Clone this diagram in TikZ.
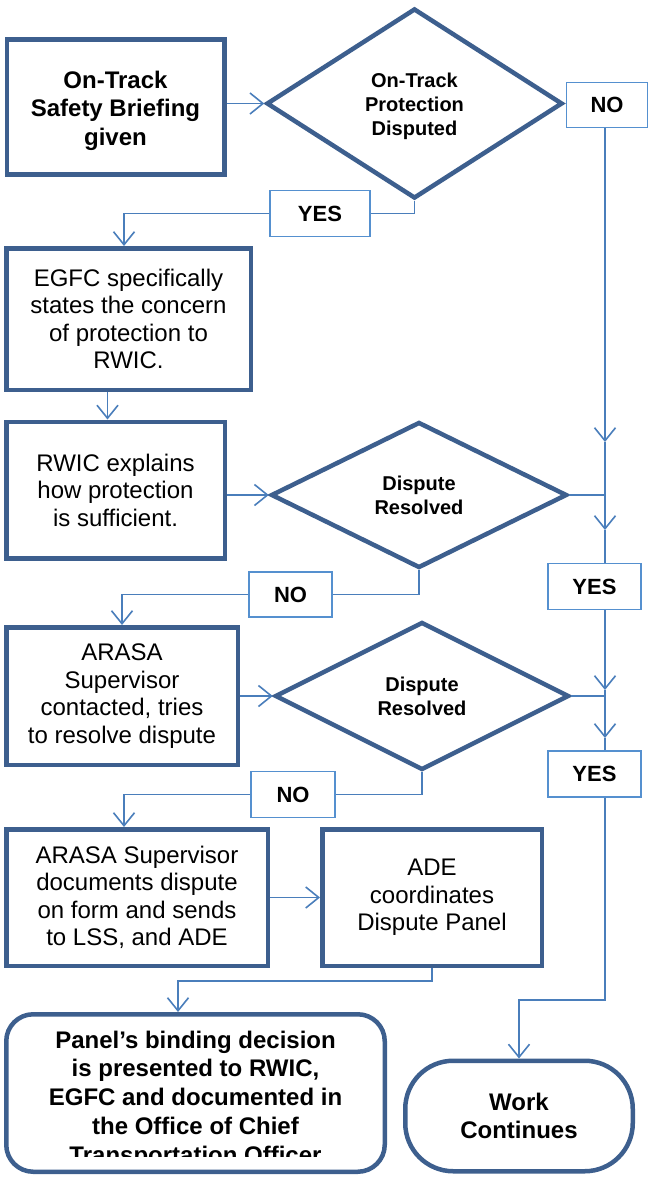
\documentclass[tikz,border=0pt]{standalone}
\usepackage{fontspec}
\setmainfont{Liberation Sans}
\usetikzlibrary{shapes.geometric,arrows.meta}
\definecolor{boxline}{HTML}{3D5F8E}
\definecolor{connline}{HTML}{4A7EBB}
\definecolor{tagline}{HTML}{5590CF}

\begin{document}
\begin{tikzpicture}[x=1pt,y=-1pt,
  procbox/.style={draw=boxline, line width=4.5pt, fill=white, align=center,
    inner sep=0pt, font=\fontsize{24}{27.5}\selectfont},
  boldbox/.style={procbox, font=\fontsize{24}{28.5}\selectfont\bfseries},
  decision/.style={diamond, draw=boxline, line width=4.5pt, fill=white,
    align=center, inner sep=0pt, font=\fontsize{20}{24}\selectfont\bfseries},
  tag/.style={draw=tagline, line width=1.4pt, fill=white, inner sep=0pt,
    font=\fontsize{22}{26}\selectfont\bfseries},
  link/.style={draw=connline, line width=1.6pt},
  arr/.style={link, -{Straight Barb[length=13pt,width=21pt]}},
]
\useasboundingbox (0,0) rectangle (650,1177);

% process boxes
\node[boldbox, minimum width=217.5pt, minimum height=135pt] (b1) at (115.5,107) {};
\node[align=center, font=\fontsize{24}{28.5}\selectfont\bfseries] (b1text)
  at (115.5,110.5) {On-Track\\Safety Briefing\\given};
\node[procbox, minimum width=244.5pt, minimum height=141.5pt] (b2) at (128.5,319)
  {EGFC specifically\\states the concern\\of protection to\\RWIC.};
\node[procbox, minimum width=218.5pt, minimum height=136.5pt] (b3) at (115.5,490)
  {RWIC explains\\how protection\\is sufficient.};
\node[procbox, minimum width=231.5pt, minimum height=137.5pt] (b4) at (122,696)
  {ARASA\\Supervisor\\contacted, tries\\to resolve dispute};
\node[procbox, minimum width=261.5pt, minimum height=136.5pt] (b5) at (137,897.5)
  {ARASA Supervisor\\documents dispute\\on form and sends\\to LSS, and ADE};
\node[procbox, minimum width=219.5pt, minimum height=136.5pt] (b6) at (432,897.5)
  {ADE\\coordinates\\Dispute Panel};

% decisions
\node[decision, minimum width=296pt, minimum height=190pt] (d1) at (414.5,103.5) {};
\node[align=center, font=\fontsize{20}{24}\selectfont\bfseries] (d1text)
  at (414.5,106.5) {On-Track\\Protection\\Disputed};
\node[decision, minimum width=296pt, minimum height=146pt] (d2) at (419,495)
  {Dispute\\Resolved};
\node[decision, minimum width=294pt, minimum height=148pt] (d3) at (422,696)
  {Dispute\\Resolved};

% terminal shapes
\node[draw=boxline, line width=4.5pt, fill=white, rounded corners=27pt,
  minimum width=378.5pt, minimum height=157.5pt] (panel) at (195.5,1093) {};
\begin{scope}
  \clip (0,1000) rectangle (650,1156);
  \node[align=center, font=\fontsize{24}{28.75}\selectfont\bfseries] (paneltext)
    at (195.5,1099.5)
    {Panel’s binding decision\\is presented to RWIC,\\EGFC and documented in\\the Office of Chief\\Transportation Officer};
\end{scope}
\node[draw=boxline, line width=4.5pt, fill=white, rounded corners=48pt,
  align=center, font=\fontsize{24}{28}\selectfont\bfseries,
  minimum width=227.5pt, minimum height=110.5pt] (work) at (519,1116)
  {Work\\Continues};

% branch labels
\node[tag, minimum width=81pt, minimum height=45pt] (no0) at (607,105) {NO};
\node[tag, minimum width=100pt, minimum height=46pt] (yes0) at (320,213.5) {YES};
\node[tag, minimum width=83pt, minimum height=45pt] (no1) at (290.5,594.5) {NO};
\node[tag, minimum width=84pt, minimum height=46pt] (no2) at (293,794.5) {NO};
\node[tag, minimum width=93pt, minimum height=46pt] (yes1) at (594.5,586.5) {YES};
\node[tag, minimum width=93pt, minimum height=46pt] (yes2) at (594.5,774) {YES};

% right-hand trunk points
\coordinate (t1) at (605,442);
\coordinate (t2) at (605,530);
\coordinate (t3) at (605,690);
\coordinate (t4) at (605,738);
\coordinate (t5) at (605,1000);

% connectors
\draw[arr] (d1.west -| b1.east) -- (d1.west);
\draw[link] (d1.south) |- (yes0.east);
\draw[arr] (yes0.west) -| (124,0 |- b2.north);
\draw[arr] (107.5,0 |- b2.south) -- (107.5,0 |- b3.north);
\draw[arr] (d2.west -| b3.east) -- (d2.west);
\draw[link] (d2.south) |- (no1.east);
\draw[arr] (no1.west) -| (122,0 |- b4.north);
\draw[arr] (d3.west -| b4.east) -- (d3.west);
\draw[link] (d3.south) |- (no2.east);
\draw[arr] (no2.west) -| (124,0 |- b5.north);
\draw[arr] (b5.east) -- (b6.west);
\draw[arr] (b6.south) -- ++(0,13) -| (178,0 |- panel.north);

\draw[arr] (605,0 |- no0.south) -- (t1);
\draw[arr] (t1) -- (t2);
\draw[link] (t2) -- (605,0 |- yes1.north);
\draw[link] (d2.east) -- (d2.east -| t1);
\draw[arr] (605,0 |- yes1.south) -- (t3);
\draw[arr] (t3) -- (t4);
\draw[link] (t4) -- (605,0 |- yes2.north);
\draw[link] (d3.east) -- (d3.east -| t3);
\draw[arr] (605,0 |- yes2.south) -- (t5) -| (work.north);
\end{tikzpicture}
\end{document}
